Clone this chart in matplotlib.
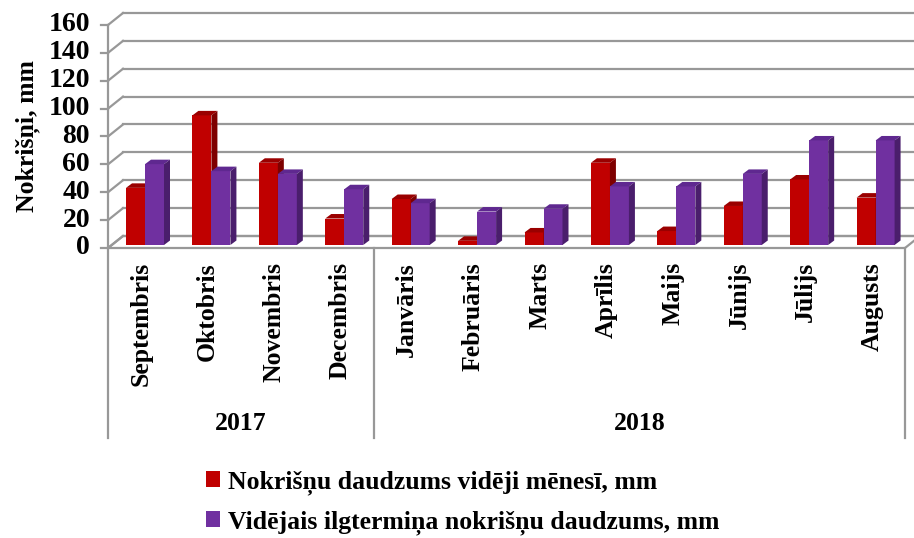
import matplotlib.pyplot as plt
from matplotlib.patches import Polygon, Patch

months = ["Septembris", "Oktobris", "Novembris", "Decembris", "Janvāris", "Februāris",
          "Marts", "Aprīlis", "Maijs", "Jūnijs", "Jūlijs", "Augusts"]
years = ["2017", "2018"]
year_spans = [(0, 4), (4, 12)]
monthly = [41, 93, 59, 19, 33, 3, 9, 59, 10, 28, 47, 34]
longterm = [58, 53, 51, 40, 30, 24, 26, 42, 42, 51, 75, 75]
yticks = [0, 20, 40, 60, 80, 100, 120, 140, 160]

plt.rcParams['font.family'] = ['Liberation Serif', 'DejaVu Serif']
plt.rcParams['font.weight'] = 'bold'
FS = 18.5

fig = plt.figure(figsize=(9.14, 5.38), dpi=100)
W, H = 914, 538
left, right, top, bottom = 108, 905, 25, 248
ax = fig.add_axes([left / W, 1 - bottom / H, (right - left) / W, (bottom - top) / H])
ax.set_xlim(0, 12)
ax.set_ylim(0, 160)
ax.set_axis_off()

# pixel -> data units
px = 12 / (right - left)
py = 160 / (bottom - top)

grey = '#989898'
lw = 1.6
Dx, Dy = 15 * px, 12 * py          # wall depth
fx, fy = 3.75 * px, 3 * py          # bar position in depth
bdx, bdy = 6 * px, 4.5 * py         # bar thickness

# floor
floor = Polygon([(0, 0), (12, 0), (12 + Dx, Dy), (Dx, Dy)], closed=True,
                facecolor='white', edgecolor=grey, lw=lw, clip_on=False, zorder=1)
ax.add_patch(floor)

# back wall gridlines and side wall diagonals
for v in yticks:
    ax.plot([Dx, 12 + Dx + 1], [v + Dy, v + Dy], color=grey, lw=lw, clip_on=False, zorder=1)
    ax.plot([0, Dx], [v, v + Dy], color=grey, lw=lw, clip_on=False, zorder=1)
    ax.plot([-7 * px, 0], [v, v], color=grey, lw=lw, clip_on=False, zorder=1)
    ax.text(-18 * px, v, str(v), ha='right', va='center', fontsize=20, fontweight='bold')
ax.plot([0, 0], [0, 160], color=grey, lw=lw, clip_on=False, zorder=1)

# category axis separators
ybot = -(438 - bottom) * py
for x in [0, 4, 12]:
    ax.plot([x, x], [0, ybot], color=grey, lw=lw, clip_on=False, zorder=1)

bw = 19 * px
x_off = 14.25 * px


def bar3d(x0, v, front, topc, side):
    x0 = x0 + fx
    y0 = fy
    ax.add_patch(Polygon([(x0, y0), (x0 + bw, y0), (x0 + bw, y0 + v), (x0, y0 + v)],
                         facecolor=front, edgecolor='none', zorder=3, clip_on=False))
    ax.add_patch(Polygon([(x0, y0 + v), (x0 + bw, y0 + v), (x0 + bw + bdx, y0 + v + bdy),
                          (x0 + bdx, y0 + v + bdy)],
                         facecolor=topc, edgecolor='none', zorder=3, clip_on=False))
    ax.add_patch(Polygon([(x0 + bw, y0), (x0 + bw, y0 + v), (x0 + bw + bdx, y0 + v + bdy),
                          (x0 + bw + bdx, y0 + bdy)],
                         facecolor=side, edgecolor='none', zorder=3, clip_on=False))


for i in range(len(months)):
    bar3d(i + x_off, monthly[i], '#C00000', '#9A0000', '#7E0000')
    bar3d(i + x_off + bw, longterm[i], '#7030A0', '#5F2890', '#4A1E6C')

# month labels
for i, m in enumerate(months):
    ax.text(i + 0.5, -14 * py, m, rotation=90, ha='center', va='top',
            fontsize=FS, fontweight='bold')

# year labels
for (a, b), yl in zip(year_spans, years):
    ax.text((a + b) / 2, -(423 - bottom) * py, yl, ha='center', va='center',
            fontsize=FS, fontweight='bold')

ax.text(-80 * px, 80, "Nokrišņi, mm", rotation=90, ha='center', va='center',
        fontsize=FS, fontweight='bold')

handles = [Patch(facecolor='#C00000', label="Nokrišņu daudzums vidēji mēnesī, mm"),
           Patch(facecolor='#7030A0', label="Vidējais ilgtermiņa nokrišņu daudzums, mm")]
fig.legend(handles=handles, loc='upper left', bbox_to_anchor=(196 / W, 1 - 460 / H),
           frameon=False, fontsize=FS, handlelength=0.55, handleheight=0.55,
           handletextpad=0.3, labelspacing=0.6, borderaxespad=0)

fig.savefig('out.png', dpi=100)
